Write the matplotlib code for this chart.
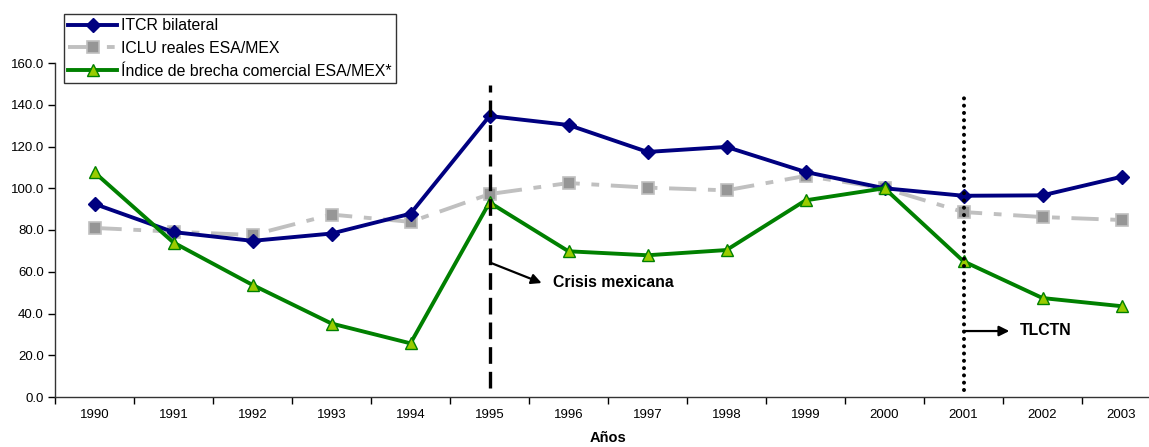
import numpy as np
import matplotlib.pyplot as plt

plt.rcParams['font.family'] = ['Liberation Sans', 'DejaVu Sans']

# Series
years = ['1990', '1991', '1992', '1993', '1994', '1995', '1996',
         '1997', '1998', '1999', '2000', '2001', '2002', '2003']
itcr = [92.5, 79.0, 74.8, 78.3, 87.8, 134.6, 130.3,
        117.4, 119.8, 107.8, 100.0, 96.4, 96.6, 105.5]
iclu = [81.0, 79.2, 77.6, 87.4, 83.9, 97.2, 102.5,
        100.3, 99.0, 105.9, 100.0, 88.6, 86.2, 84.8]
brecha = [107.6, 74.0, 53.7, 35.2, 25.7, 93.2, 69.8,
          67.9, 70.4, 94.2, 100.0, 65.0, 47.4, 43.5]

x = np.arange(len(years))

fig = plt.figure(figsize=(11.49, 4.47), dpi=100)
ax = fig.add_axes([55 / 1149, 50 / 447, 1106 / 1149, 334 / 447])

ax.plot(x, itcr, color='#000080', lw=2.8, marker='D', ms=7.5,
        mfc='#000080', mec='#000080', label='ITCR bilateral', zorder=4)
ax.plot(x, iclu, color='#C0C0C0', lw=2.8, ls=(0, (7, 3, 2, 3)),
        marker='s', ms=8, mfc='#969696', mec='#C0C0C0', mew=1.2,
        label='ICLU reales ESA/MEX', zorder=3)
ax.plot(x, brecha, color='#008000', lw=2.8, marker='^', ms=8.5,
        mfc='#99CC00', mec='#008000', mew=1,
        label='Índice de brecha comercial ESA/MEX*', zorder=5)

# Vertical reference lines
ax.plot([5, 5], [4.3, 149.5], color='black', lw=2.4, ls=(0, (5, 2.4)), zorder=6)
ax.plot([11, 11], [3.4, 146.0], color='black', lw=2.9, ls=(0, (0.01, 1.8)),
        dash_capstyle='round', zorder=6)

ax.annotate('', xy=(5.66, 54.6), xytext=(5.02, 64.2),
            arrowprops=dict(arrowstyle='-|>', color='black', lw=1.6,
                            mutation_scale=15, shrinkA=0, shrinkB=0))
ax.text(5.81, 54.8, 'Crisis mexicana', fontsize=11.4, fontweight='bold',
        va='center', ha='left')
ax.annotate('', xy=(11.58, 31.6), xytext=(11.0, 31.6),
            arrowprops=dict(arrowstyle='-|>', color='black', lw=1.6,
                            mutation_scale=15, shrinkA=0, shrinkB=0))
ax.text(11.71, 31.8, 'TLCTN', fontsize=11.4, fontweight='bold',
        va='center', ha='left')

ax.set_xlim(-0.5, 13.5)
ax.set_ylim(0, 160)
ax.set_yticks(np.arange(0, 161, 20))
ax.set_yticklabels([f'{v:.1f}' for v in np.arange(0, 161, 20)])
ax.set_xticks(x)
ax.set_xticklabels(years)
ax.set_xticks(np.arange(-0.5, 13.6, 1), minor=True)
ax.tick_params(axis='x', which='major', length=0, pad=9, labelsize=9.5)
ax.tick_params(axis='x', which='minor', length=5, width=1)
ax.tick_params(axis='y', length=5, width=1, labelsize=9.5, pad=3)

for side in ['top', 'right']:
    ax.spines[side].set_visible(False)
for side in ['left', 'bottom']:
    ax.spines[side].set_linewidth(1)
    ax.spines[side].set_color('#333333')

ax.set_xlabel('Años', fontsize=10.5, fontweight='bold', labelpad=7)

leg = ax.legend(loc='upper left', bbox_to_anchor=(64 / 1149, 1 - 14 / 447),
                bbox_transform=fig.transFigure, fontsize=11.4, frameon=True,
                fancybox=False, edgecolor='black', borderaxespad=0,
                handlelength=3.1, handletextpad=0.25, labelspacing=0.5,
                borderpad=0.26)
leg.get_frame().set_linewidth(1)

fig.savefig('out.png', dpi=100)
